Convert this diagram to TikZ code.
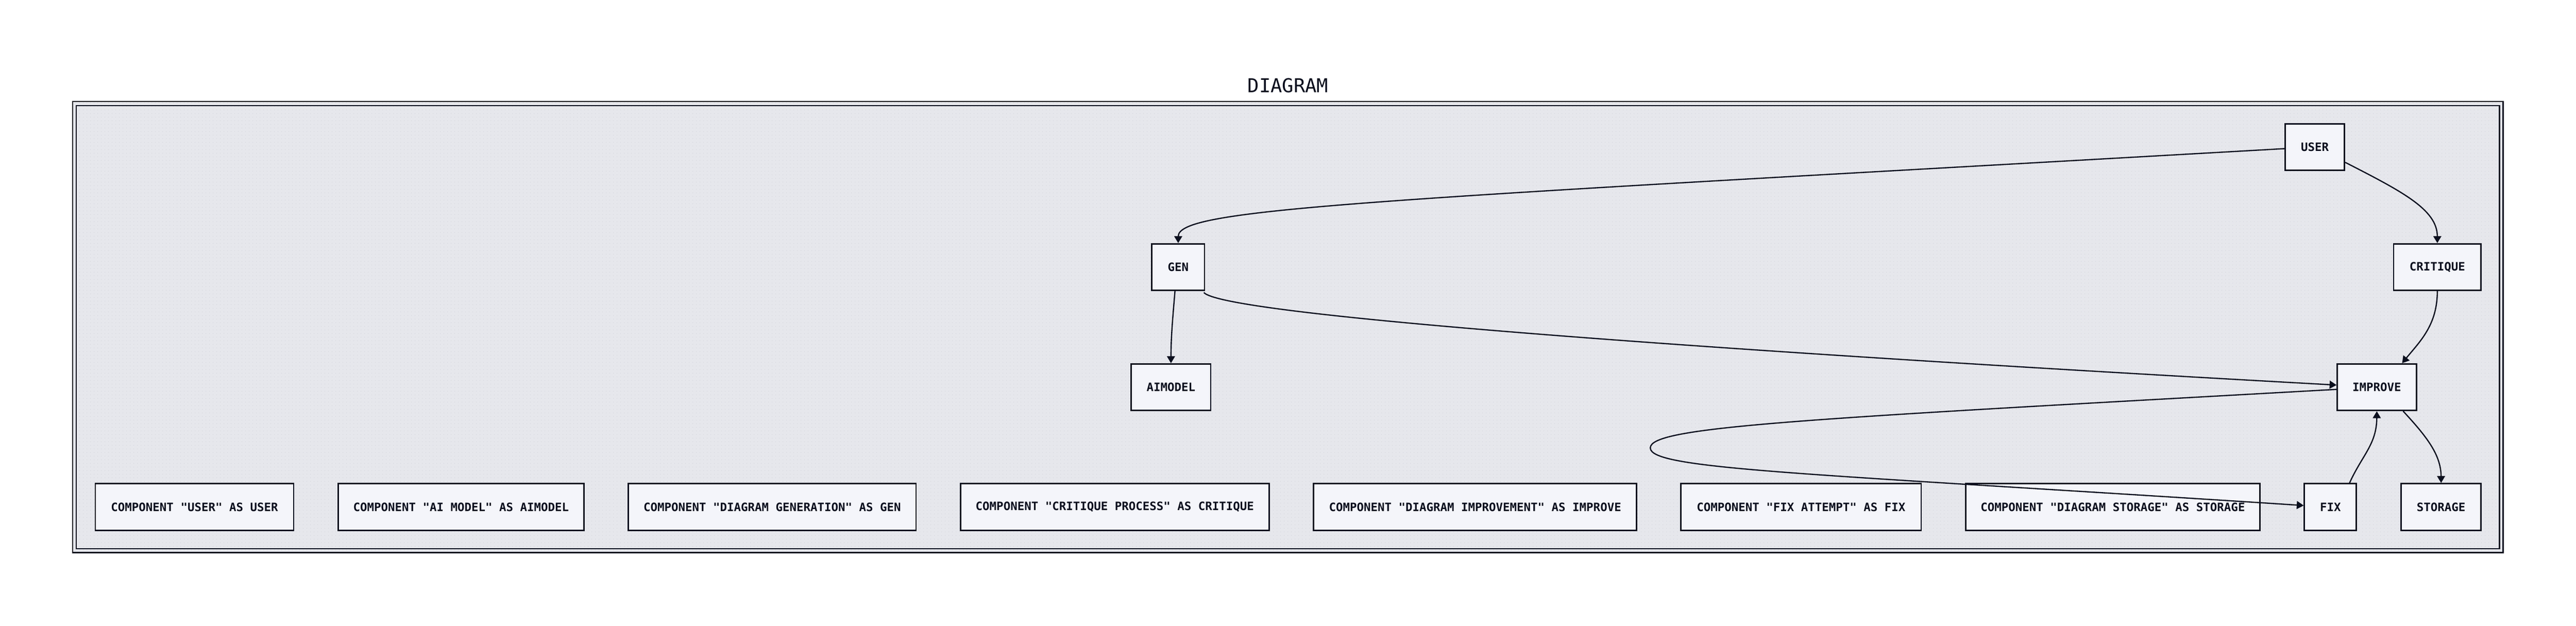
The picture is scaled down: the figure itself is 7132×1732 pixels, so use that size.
\documentclass[tikz,border=0pt]{standalone}
\usepackage{fontspec}
\setmonofont{DejaVu Sans Mono}
\usetikzlibrary{arrows.meta,calc,patterns.meta}
\definecolor{ink}{HTML}{0B0F1E}
\definecolor{bggray}{HTML}{E6E7EC}
\definecolor{dotgray}{HTML}{D3D4DB}
\definecolor{boxfill}{HTML}{F4F5FA}
\tikzdeclarepattern{
  name=griddots,
  type=uncolored,
  bottom left={(0pt,0pt)},
  top right={(2.5pt,2.5pt)},
  tile size={(2.5pt,2.5pt)},
  code={\pgfpathrectangle{\pgfpointorigin}{\pgfpoint{0.5pt}{0.5pt}}\pgfusepath{fill}}
}
\tikzset{
  box/.style={draw=ink, fill=boxfill, line width=1pt, inner sep=0pt,
    minimum height=32.25pt, text=ink,
    font=\ttfamily\bfseries\fontsize{8}{9.6}\selectfont},
  bw/.style={minimum width=#1*0.25pt},
  conn/.style={draw=ink, line width=0.85pt, -{Triangle[length=4.8pt,width=5.5pt]}},
}
\begin{document}
\begin{tikzpicture}[x=0.25pt,y=-0.25pt]
\useasboundingbox (0,0) rectangle (7132,1732);
\fill[white] (0,0) rectangle (7132,1732);
% frame
\fill[bggray] (201,281) rectangle (6930,1530);
\fill[pattern=griddots, pattern color=dotgray] (201,281) rectangle (6930,1530);
\draw[ink, line width=0.9pt] (201,281) rectangle (6930,1530);
\draw[ink, line width=0.8pt] (211,292) rectangle (6920,1519);
\node[text=ink, font=\ttfamily\fontsize{13.25}{15}\selectfont, anchor=base, inner sep=0pt] (title) at (3566,256) {DIAGRAM};
% main nodes
\node[box, bw=164] (user) at (6409,407.5) {USER};
\node[box, bw=146] (gen) at (3262,739.5) {GEN};
\node[box, bw=242] (critique) at (6748,739.5) {CRITIQUE};
\node[box, bw=220] (aimodel) at (3242,1072) {AIMODEL};
\node[box, bw=219] (improve) at (6580.5,1072) {IMPROVE};
\node[box, bw=144] (fix) at (6452,1403.5) {FIX};
\node[box, bw=221] (storage) at (6758.5,1403.5) {STORAGE};
% component declarations
\node[box, bw=549] (cuser) at (538.5,1403.5) {COMPONENT "USER" AS USER};
\node[box, bw=681] (cai) at (1276.5,1403.5) {COMPONENT "AI MODEL" AS AIMODEL};
\node[box, bw=796] (cgen) at (2138,1403.5) {COMPONENT "DIAGRAM GENERATION" AS GEN};
\node[box, bw=855] (ccrit) at (3086.5,1403.5) {COMPONENT "CRITIQUE PROCESS" AS CRITIQUE};
\node[box, bw=894] (cimp) at (4084,1403.5) {COMPONENT "DIAGRAM IMPROVEMENT" AS IMPROVE};
\node[box, bw=665] (cfix) at (4986.5,1403.5) {COMPONENT "FIX ATTEMPT" AS FIX};
\node[box, bw=815] (csto) at (5849.5,1403.5) {COMPONENT "DIAGRAM STORAGE" AS STORAGE};
% connectors
\coordinate (loop) at (4569,1240);
\draw[conn] ($(user.west)+(0,4)$) .. controls (3800,555) and (3262,575) .. (gen.north);
\draw[conn] ($(user.east)+(0,42)$) .. controls (6650,530) and (6748,580) .. (critique.north);
\draw[conn] (critique.south) .. controls (6748,900) and (6700,945) .. ($(improve.north)+(70,0)$);
\draw[conn] ($(gen.south)+(-9,0)$) .. controls (3247,880) and (3242,930) .. (aimodel.north);
\draw[conn] ($(gen.south east)+(-4,4)$) .. controls (3400,880) and (5000,985) .. ($(improve.west)+(0,-6)$);
\draw[conn] ($(improve.west)+(0,6)$) .. controls (5000,1160) and (4569,1180) .. (loop)
   .. controls (4569,1300) and (5000,1310) .. ($(fix.west)+(0,-4)$);
\draw[conn] ($(fix.north)+(53,0)$) .. controls (6540,1260) and (6580,1230) .. (improve.south);
\draw[conn] ($(improve.south)+(73,0)$) .. controls (6720,1210) and (6758,1260) .. (storage.north);
\end{tikzpicture}
\end{document}
